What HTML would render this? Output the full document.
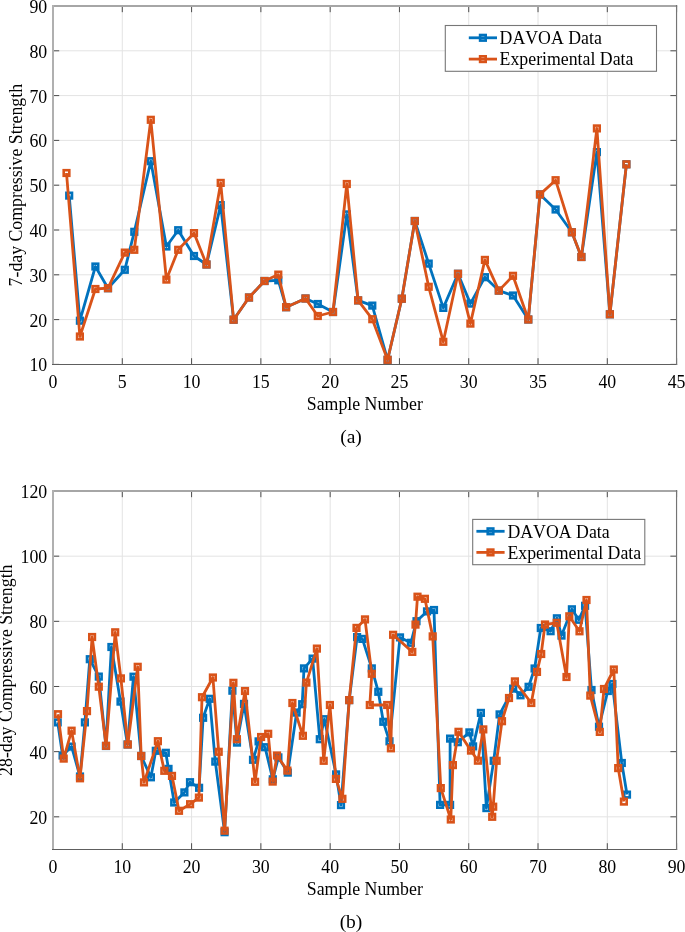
<!DOCTYPE html>
<html><head><meta charset="utf-8"><style>
html,body{margin:0;padding:0;background:#fff;}
svg{display:block;will-change:transform}
text{font-family:"Liberation Serif",serif;font-size:17.8px;fill:#000;font-kerning:none}
</style></head><body>
<svg width="685" height="932" viewBox="0 0 685 932">
<rect width="685" height="932" fill="#fff"/>
<line x1="122.29" y1="6.0" x2="122.29" y2="364.4" stroke="#e3e3e3" stroke-width="1"/>
<line x1="191.58" y1="6.0" x2="191.58" y2="364.4" stroke="#e3e3e3" stroke-width="1"/>
<line x1="260.87" y1="6.0" x2="260.87" y2="364.4" stroke="#e3e3e3" stroke-width="1"/>
<line x1="330.16" y1="6.0" x2="330.16" y2="364.4" stroke="#e3e3e3" stroke-width="1"/>
<line x1="399.44" y1="6.0" x2="399.44" y2="364.4" stroke="#e3e3e3" stroke-width="1"/>
<line x1="468.73" y1="6.0" x2="468.73" y2="364.4" stroke="#e3e3e3" stroke-width="1"/>
<line x1="538.02" y1="6.0" x2="538.02" y2="364.4" stroke="#e3e3e3" stroke-width="1"/>
<line x1="607.31" y1="6.0" x2="607.31" y2="364.4" stroke="#e3e3e3" stroke-width="1"/>
<line x1="53.0" y1="319.60" x2="676.6" y2="319.60" stroke="#e3e3e3" stroke-width="1"/>
<line x1="53.0" y1="274.80" x2="676.6" y2="274.80" stroke="#e3e3e3" stroke-width="1"/>
<line x1="53.0" y1="230.00" x2="676.6" y2="230.00" stroke="#e3e3e3" stroke-width="1"/>
<line x1="53.0" y1="185.20" x2="676.6" y2="185.20" stroke="#e3e3e3" stroke-width="1"/>
<line x1="53.0" y1="140.40" x2="676.6" y2="140.40" stroke="#e3e3e3" stroke-width="1"/>
<line x1="53.0" y1="95.60" x2="676.6" y2="95.60" stroke="#e3e3e3" stroke-width="1"/>
<line x1="53.0" y1="50.80" x2="676.6" y2="50.80" stroke="#e3e3e3" stroke-width="1"/>
<polyline points="69.2,195.6 79.9,320.7 95.4,266.5 108.0,288.2 124.8,269.8 134.3,231.8 150.8,161.2 166.4,246.5 178.2,230.2 194.0,256.0 206.5,264.5 220.7,205.1 233.6,319.7 249.0,297.5 264.5,281.0 278.3,280.3 286.1,307.2 305.5,298.5 317.8,304.0 333.0,312.0 346.8,214.4 358.1,300.4 372.3,305.6 387.6,359.8 401.8,298.7 414.8,221.0 428.7,263.6 443.3,307.9 458.0,273.8 470.4,303.6 484.9,277.2 498.8,290.6 513.0,295.5 528.3,319.5 540.0,194.4 555.6,209.5 571.9,232.3 581.4,257.0 596.9,152.1 609.9,314.3 626.4,164.3" fill="none" stroke="#0072BD" stroke-width="2.8" stroke-linejoin="round" stroke-linecap="butt"/>
<rect x="66.4" y="192.8" width="5.6" height="5.6" fill="none" stroke="#0072BD" stroke-width="2.6"/>
<rect x="77.1" y="317.9" width="5.6" height="5.6" fill="none" stroke="#0072BD" stroke-width="2.6"/>
<rect x="92.6" y="263.7" width="5.6" height="5.6" fill="none" stroke="#0072BD" stroke-width="2.6"/>
<rect x="105.2" y="285.4" width="5.6" height="5.6" fill="none" stroke="#0072BD" stroke-width="2.6"/>
<rect x="122.0" y="267.0" width="5.6" height="5.6" fill="none" stroke="#0072BD" stroke-width="2.6"/>
<rect x="131.5" y="229.0" width="5.6" height="5.6" fill="none" stroke="#0072BD" stroke-width="2.6"/>
<rect x="148.0" y="158.4" width="5.6" height="5.6" fill="none" stroke="#0072BD" stroke-width="2.6"/>
<rect x="163.6" y="243.7" width="5.6" height="5.6" fill="none" stroke="#0072BD" stroke-width="2.6"/>
<rect x="175.4" y="227.4" width="5.6" height="5.6" fill="none" stroke="#0072BD" stroke-width="2.6"/>
<rect x="191.2" y="253.2" width="5.6" height="5.6" fill="none" stroke="#0072BD" stroke-width="2.6"/>
<rect x="203.7" y="261.7" width="5.6" height="5.6" fill="none" stroke="#0072BD" stroke-width="2.6"/>
<rect x="217.9" y="202.3" width="5.6" height="5.6" fill="none" stroke="#0072BD" stroke-width="2.6"/>
<rect x="230.8" y="316.9" width="5.6" height="5.6" fill="none" stroke="#0072BD" stroke-width="2.6"/>
<rect x="246.2" y="294.7" width="5.6" height="5.6" fill="none" stroke="#0072BD" stroke-width="2.6"/>
<rect x="261.7" y="278.2" width="5.6" height="5.6" fill="none" stroke="#0072BD" stroke-width="2.6"/>
<rect x="275.5" y="277.5" width="5.6" height="5.6" fill="none" stroke="#0072BD" stroke-width="2.6"/>
<rect x="283.3" y="304.4" width="5.6" height="5.6" fill="none" stroke="#0072BD" stroke-width="2.6"/>
<rect x="302.7" y="295.7" width="5.6" height="5.6" fill="none" stroke="#0072BD" stroke-width="2.6"/>
<rect x="315.0" y="301.2" width="5.6" height="5.6" fill="none" stroke="#0072BD" stroke-width="2.6"/>
<rect x="330.2" y="309.2" width="5.6" height="5.6" fill="none" stroke="#0072BD" stroke-width="2.6"/>
<rect x="344.0" y="211.6" width="5.6" height="5.6" fill="none" stroke="#0072BD" stroke-width="2.6"/>
<rect x="355.3" y="297.6" width="5.6" height="5.6" fill="none" stroke="#0072BD" stroke-width="2.6"/>
<rect x="369.5" y="302.8" width="5.6" height="5.6" fill="none" stroke="#0072BD" stroke-width="2.6"/>
<rect x="384.8" y="357.0" width="5.6" height="5.6" fill="none" stroke="#0072BD" stroke-width="2.6"/>
<rect x="399.0" y="295.9" width="5.6" height="5.6" fill="none" stroke="#0072BD" stroke-width="2.6"/>
<rect x="412.0" y="218.2" width="5.6" height="5.6" fill="none" stroke="#0072BD" stroke-width="2.6"/>
<rect x="425.9" y="260.8" width="5.6" height="5.6" fill="none" stroke="#0072BD" stroke-width="2.6"/>
<rect x="440.5" y="305.1" width="5.6" height="5.6" fill="none" stroke="#0072BD" stroke-width="2.6"/>
<rect x="455.2" y="271.0" width="5.6" height="5.6" fill="none" stroke="#0072BD" stroke-width="2.6"/>
<rect x="467.6" y="300.8" width="5.6" height="5.6" fill="none" stroke="#0072BD" stroke-width="2.6"/>
<rect x="482.1" y="274.4" width="5.6" height="5.6" fill="none" stroke="#0072BD" stroke-width="2.6"/>
<rect x="496.0" y="287.8" width="5.6" height="5.6" fill="none" stroke="#0072BD" stroke-width="2.6"/>
<rect x="510.2" y="292.7" width="5.6" height="5.6" fill="none" stroke="#0072BD" stroke-width="2.6"/>
<rect x="525.5" y="316.7" width="5.6" height="5.6" fill="none" stroke="#0072BD" stroke-width="2.6"/>
<rect x="537.2" y="191.6" width="5.6" height="5.6" fill="none" stroke="#0072BD" stroke-width="2.6"/>
<rect x="552.8" y="206.7" width="5.6" height="5.6" fill="none" stroke="#0072BD" stroke-width="2.6"/>
<rect x="569.1" y="229.5" width="5.6" height="5.6" fill="none" stroke="#0072BD" stroke-width="2.6"/>
<rect x="578.6" y="254.2" width="5.6" height="5.6" fill="none" stroke="#0072BD" stroke-width="2.6"/>
<rect x="594.1" y="149.3" width="5.6" height="5.6" fill="none" stroke="#0072BD" stroke-width="2.6"/>
<rect x="607.1" y="311.5" width="5.6" height="5.6" fill="none" stroke="#0072BD" stroke-width="2.6"/>
<rect x="623.6" y="161.5" width="5.6" height="5.6" fill="none" stroke="#0072BD" stroke-width="2.6"/>
<polyline points="66.5,173.0 79.9,336.5 95.4,289.0 108.0,288.2 124.8,252.6 134.3,249.8 150.8,119.8 166.4,279.6 178.2,249.8 194.0,233.1 206.5,264.5 220.7,182.9 233.6,319.7 249.0,297.5 264.5,281.0 278.3,274.6 286.1,307.2 305.5,298.5 317.8,316.0 333.0,312.0 346.8,184.0 358.1,300.4 372.3,319.2 387.6,359.8 401.8,298.7 414.8,221.0 428.7,286.8 443.3,341.8 458.0,273.8 470.4,323.6 484.9,259.9 498.8,290.6 513.0,275.8 528.3,319.5 540.0,194.4 555.6,180.2 571.9,232.3 581.4,257.0 596.9,128.4 609.9,314.3 626.4,164.3" fill="none" stroke="#D95319" stroke-width="2.8" stroke-linejoin="round" stroke-linecap="butt"/>
<rect x="63.7" y="170.2" width="5.6" height="5.6" fill="none" stroke="#D95319" stroke-width="2.6"/>
<rect x="77.1" y="333.7" width="5.6" height="5.6" fill="none" stroke="#D95319" stroke-width="2.6"/>
<rect x="92.6" y="286.2" width="5.6" height="5.6" fill="none" stroke="#D95319" stroke-width="2.6"/>
<rect x="105.2" y="285.4" width="5.6" height="5.6" fill="none" stroke="#D95319" stroke-width="2.6"/>
<rect x="122.0" y="249.8" width="5.6" height="5.6" fill="none" stroke="#D95319" stroke-width="2.6"/>
<rect x="131.5" y="247.0" width="5.6" height="5.6" fill="none" stroke="#D95319" stroke-width="2.6"/>
<rect x="148.0" y="117.0" width="5.6" height="5.6" fill="none" stroke="#D95319" stroke-width="2.6"/>
<rect x="163.6" y="276.8" width="5.6" height="5.6" fill="none" stroke="#D95319" stroke-width="2.6"/>
<rect x="175.4" y="247.0" width="5.6" height="5.6" fill="none" stroke="#D95319" stroke-width="2.6"/>
<rect x="191.2" y="230.3" width="5.6" height="5.6" fill="none" stroke="#D95319" stroke-width="2.6"/>
<rect x="203.7" y="261.7" width="5.6" height="5.6" fill="none" stroke="#D95319" stroke-width="2.6"/>
<rect x="217.9" y="180.1" width="5.6" height="5.6" fill="none" stroke="#D95319" stroke-width="2.6"/>
<rect x="230.8" y="316.9" width="5.6" height="5.6" fill="none" stroke="#D95319" stroke-width="2.6"/>
<rect x="246.2" y="294.7" width="5.6" height="5.6" fill="none" stroke="#D95319" stroke-width="2.6"/>
<rect x="261.7" y="278.2" width="5.6" height="5.6" fill="none" stroke="#D95319" stroke-width="2.6"/>
<rect x="275.5" y="271.8" width="5.6" height="5.6" fill="none" stroke="#D95319" stroke-width="2.6"/>
<rect x="283.3" y="304.4" width="5.6" height="5.6" fill="none" stroke="#D95319" stroke-width="2.6"/>
<rect x="302.7" y="295.7" width="5.6" height="5.6" fill="none" stroke="#D95319" stroke-width="2.6"/>
<rect x="315.0" y="313.2" width="5.6" height="5.6" fill="none" stroke="#D95319" stroke-width="2.6"/>
<rect x="330.2" y="309.2" width="5.6" height="5.6" fill="none" stroke="#D95319" stroke-width="2.6"/>
<rect x="344.0" y="181.2" width="5.6" height="5.6" fill="none" stroke="#D95319" stroke-width="2.6"/>
<rect x="355.3" y="297.6" width="5.6" height="5.6" fill="none" stroke="#D95319" stroke-width="2.6"/>
<rect x="369.5" y="316.4" width="5.6" height="5.6" fill="none" stroke="#D95319" stroke-width="2.6"/>
<rect x="384.8" y="357.0" width="5.6" height="5.6" fill="none" stroke="#D95319" stroke-width="2.6"/>
<rect x="399.0" y="295.9" width="5.6" height="5.6" fill="none" stroke="#D95319" stroke-width="2.6"/>
<rect x="412.0" y="218.2" width="5.6" height="5.6" fill="none" stroke="#D95319" stroke-width="2.6"/>
<rect x="425.9" y="284.0" width="5.6" height="5.6" fill="none" stroke="#D95319" stroke-width="2.6"/>
<rect x="440.5" y="339.0" width="5.6" height="5.6" fill="none" stroke="#D95319" stroke-width="2.6"/>
<rect x="455.2" y="271.0" width="5.6" height="5.6" fill="none" stroke="#D95319" stroke-width="2.6"/>
<rect x="467.6" y="320.8" width="5.6" height="5.6" fill="none" stroke="#D95319" stroke-width="2.6"/>
<rect x="482.1" y="257.1" width="5.6" height="5.6" fill="none" stroke="#D95319" stroke-width="2.6"/>
<rect x="496.0" y="287.8" width="5.6" height="5.6" fill="none" stroke="#D95319" stroke-width="2.6"/>
<rect x="510.2" y="273.0" width="5.6" height="5.6" fill="none" stroke="#D95319" stroke-width="2.6"/>
<rect x="525.5" y="316.7" width="5.6" height="5.6" fill="none" stroke="#D95319" stroke-width="2.6"/>
<rect x="537.2" y="191.6" width="5.6" height="5.6" fill="none" stroke="#D95319" stroke-width="2.6"/>
<rect x="552.8" y="177.4" width="5.6" height="5.6" fill="none" stroke="#D95319" stroke-width="2.6"/>
<rect x="569.1" y="229.5" width="5.6" height="5.6" fill="none" stroke="#D95319" stroke-width="2.6"/>
<rect x="578.6" y="254.2" width="5.6" height="5.6" fill="none" stroke="#D95319" stroke-width="2.6"/>
<rect x="594.1" y="125.6" width="5.6" height="5.6" fill="none" stroke="#D95319" stroke-width="2.6"/>
<rect x="607.1" y="311.5" width="5.6" height="5.6" fill="none" stroke="#D95319" stroke-width="2.6"/>
<rect x="623.6" y="161.5" width="5.6" height="5.6" fill="none" stroke="#D95319" stroke-width="2.6"/>
<line x1="53.00" y1="364.4" x2="53.00" y2="358.2" stroke="#4d4d4d" stroke-width="1"/>
<line x1="53.00" y1="6.0" x2="53.00" y2="12.2" stroke="#4d4d4d" stroke-width="1"/>
<line x1="122.29" y1="364.4" x2="122.29" y2="358.2" stroke="#4d4d4d" stroke-width="1"/>
<line x1="122.29" y1="6.0" x2="122.29" y2="12.2" stroke="#4d4d4d" stroke-width="1"/>
<line x1="191.58" y1="364.4" x2="191.58" y2="358.2" stroke="#4d4d4d" stroke-width="1"/>
<line x1="191.58" y1="6.0" x2="191.58" y2="12.2" stroke="#4d4d4d" stroke-width="1"/>
<line x1="260.87" y1="364.4" x2="260.87" y2="358.2" stroke="#4d4d4d" stroke-width="1"/>
<line x1="260.87" y1="6.0" x2="260.87" y2="12.2" stroke="#4d4d4d" stroke-width="1"/>
<line x1="330.16" y1="364.4" x2="330.16" y2="358.2" stroke="#4d4d4d" stroke-width="1"/>
<line x1="330.16" y1="6.0" x2="330.16" y2="12.2" stroke="#4d4d4d" stroke-width="1"/>
<line x1="399.44" y1="364.4" x2="399.44" y2="358.2" stroke="#4d4d4d" stroke-width="1"/>
<line x1="399.44" y1="6.0" x2="399.44" y2="12.2" stroke="#4d4d4d" stroke-width="1"/>
<line x1="468.73" y1="364.4" x2="468.73" y2="358.2" stroke="#4d4d4d" stroke-width="1"/>
<line x1="468.73" y1="6.0" x2="468.73" y2="12.2" stroke="#4d4d4d" stroke-width="1"/>
<line x1="538.02" y1="364.4" x2="538.02" y2="358.2" stroke="#4d4d4d" stroke-width="1"/>
<line x1="538.02" y1="6.0" x2="538.02" y2="12.2" stroke="#4d4d4d" stroke-width="1"/>
<line x1="607.31" y1="364.4" x2="607.31" y2="358.2" stroke="#4d4d4d" stroke-width="1"/>
<line x1="607.31" y1="6.0" x2="607.31" y2="12.2" stroke="#4d4d4d" stroke-width="1"/>
<line x1="676.60" y1="364.4" x2="676.60" y2="358.2" stroke="#4d4d4d" stroke-width="1"/>
<line x1="676.60" y1="6.0" x2="676.60" y2="12.2" stroke="#4d4d4d" stroke-width="1"/>
<line x1="53.0" y1="364.40" x2="59.2" y2="364.40" stroke="#4d4d4d" stroke-width="1"/>
<line x1="676.6" y1="364.40" x2="670.4" y2="364.40" stroke="#4d4d4d" stroke-width="1"/>
<line x1="53.0" y1="319.60" x2="59.2" y2="319.60" stroke="#4d4d4d" stroke-width="1"/>
<line x1="676.6" y1="319.60" x2="670.4" y2="319.60" stroke="#4d4d4d" stroke-width="1"/>
<line x1="53.0" y1="274.80" x2="59.2" y2="274.80" stroke="#4d4d4d" stroke-width="1"/>
<line x1="676.6" y1="274.80" x2="670.4" y2="274.80" stroke="#4d4d4d" stroke-width="1"/>
<line x1="53.0" y1="230.00" x2="59.2" y2="230.00" stroke="#4d4d4d" stroke-width="1"/>
<line x1="676.6" y1="230.00" x2="670.4" y2="230.00" stroke="#4d4d4d" stroke-width="1"/>
<line x1="53.0" y1="185.20" x2="59.2" y2="185.20" stroke="#4d4d4d" stroke-width="1"/>
<line x1="676.6" y1="185.20" x2="670.4" y2="185.20" stroke="#4d4d4d" stroke-width="1"/>
<line x1="53.0" y1="140.40" x2="59.2" y2="140.40" stroke="#4d4d4d" stroke-width="1"/>
<line x1="676.6" y1="140.40" x2="670.4" y2="140.40" stroke="#4d4d4d" stroke-width="1"/>
<line x1="53.0" y1="95.60" x2="59.2" y2="95.60" stroke="#4d4d4d" stroke-width="1"/>
<line x1="676.6" y1="95.60" x2="670.4" y2="95.60" stroke="#4d4d4d" stroke-width="1"/>
<line x1="53.0" y1="50.80" x2="59.2" y2="50.80" stroke="#4d4d4d" stroke-width="1"/>
<line x1="676.6" y1="50.80" x2="670.4" y2="50.80" stroke="#4d4d4d" stroke-width="1"/>
<line x1="53.0" y1="6.00" x2="59.2" y2="6.00" stroke="#4d4d4d" stroke-width="1"/>
<line x1="676.6" y1="6.00" x2="670.4" y2="6.00" stroke="#4d4d4d" stroke-width="1"/>
<line x1="52.0" y1="6.0" x2="677.2" y2="6.0" stroke="#a6a6a6" stroke-width="2"/>
<line x1="53.0" y1="5.0" x2="53.0" y2="365.0" stroke="#b0b0b0" stroke-width="2"/>
<line x1="52.0" y1="364.5" x2="677.2" y2="364.5" stroke="#5e5e5e" stroke-width="1.05"/>
<line x1="676.5500000000001" y1="5.0" x2="676.5500000000001" y2="365.0" stroke="#747474" stroke-width="1.15"/>
<rect x="445.3" y="25.5" width="211.2" height="45.8" fill="#fff" stroke="#777" stroke-width="1.1"/>
<line x1="468.8" y1="37.8" x2="497.0" y2="37.8" stroke="#0072BD" stroke-width="2.8"/>
<rect x="480.1" y="35.0" width="5.6" height="5.6" fill="none" stroke="#0072BD" stroke-width="2.6"/>
<text x="499.6" y="44.1">DAVOA Data</text>
<line x1="468.8" y1="59.1" x2="497.0" y2="59.1" stroke="#D95319" stroke-width="2.8"/>
<rect x="480.1" y="56.3" width="5.6" height="5.6" fill="none" stroke="#D95319" stroke-width="2.6"/>
<text x="499.6" y="65.4">Experimental Data</text>
<text x="53.00" y="388.0" text-anchor="middle">0</text>
<text x="122.29" y="388.0" text-anchor="middle">5</text>
<text x="191.58" y="388.0" text-anchor="middle">10</text>
<text x="260.87" y="388.0" text-anchor="middle">15</text>
<text x="330.16" y="388.0" text-anchor="middle">20</text>
<text x="399.44" y="388.0" text-anchor="middle">25</text>
<text x="468.73" y="388.0" text-anchor="middle">30</text>
<text x="538.02" y="388.0" text-anchor="middle">35</text>
<text x="607.31" y="388.0" text-anchor="middle">40</text>
<text x="676.60" y="388.0" text-anchor="middle">45</text>
<text x="47.2" y="371.4" text-anchor="end">10</text>
<text x="47.2" y="326.6" text-anchor="end">20</text>
<text x="47.2" y="281.8" text-anchor="end">30</text>
<text x="47.2" y="237.0" text-anchor="end">40</text>
<text x="47.2" y="192.2" text-anchor="end">50</text>
<text x="47.2" y="147.4" text-anchor="end">60</text>
<text x="47.2" y="102.6" text-anchor="end">70</text>
<text x="47.2" y="57.8" text-anchor="end">80</text>
<text x="47.2" y="13.0" text-anchor="end">90</text>
<text x="364.8" y="410.0" text-anchor="middle">Sample Number</text>
<text transform="translate(21.8,185.2) rotate(-90)" x="0" y="0" text-anchor="middle">7-day Compressive Strength</text>
<text x="351.0" y="443.0" text-anchor="middle" style="font-size:19.5px">(a)</text>
<line x1="122.29" y1="491.0" x2="122.29" y2="849.4" stroke="#e3e3e3" stroke-width="1"/>
<line x1="191.58" y1="491.0" x2="191.58" y2="849.4" stroke="#e3e3e3" stroke-width="1"/>
<line x1="260.87" y1="491.0" x2="260.87" y2="849.4" stroke="#e3e3e3" stroke-width="1"/>
<line x1="330.16" y1="491.0" x2="330.16" y2="849.4" stroke="#e3e3e3" stroke-width="1"/>
<line x1="399.44" y1="491.0" x2="399.44" y2="849.4" stroke="#e3e3e3" stroke-width="1"/>
<line x1="468.73" y1="491.0" x2="468.73" y2="849.4" stroke="#e3e3e3" stroke-width="1"/>
<line x1="538.02" y1="491.0" x2="538.02" y2="849.4" stroke="#e3e3e3" stroke-width="1"/>
<line x1="607.31" y1="491.0" x2="607.31" y2="849.4" stroke="#e3e3e3" stroke-width="1"/>
<line x1="53.0" y1="816.82" x2="676.6" y2="816.82" stroke="#e3e3e3" stroke-width="1"/>
<line x1="53.0" y1="751.65" x2="676.6" y2="751.65" stroke="#e3e3e3" stroke-width="1"/>
<line x1="53.0" y1="686.49" x2="676.6" y2="686.49" stroke="#e3e3e3" stroke-width="1"/>
<line x1="53.0" y1="621.33" x2="676.6" y2="621.33" stroke="#e3e3e3" stroke-width="1"/>
<line x1="53.0" y1="556.16" x2="676.6" y2="556.16" stroke="#e3e3e3" stroke-width="1"/>
<polyline points="57.7,722.4 62.6,755.5 71.6,746.6 80.0,776.5 84.9,722.4 89.8,659.2 98.8,676.6 105.9,746.0 111.4,647.0 120.5,701.6 127.5,744.5 133.5,676.7 141.2,756.0 150.9,777.3 155.8,750.8 165.8,752.8 168.5,768.9 174.2,802.5 184.4,792.4 190.0,782.2 199.1,787.8 203.1,717.8 209.7,698.8 215.3,761.6 224.6,832.2 232.4,690.7 237.0,742.6 244.0,703.9 253.0,759.8 258.6,741.4 265.0,747.2 272.8,779.3 278.4,757.4 287.8,772.6 296.6,712.6 302.2,704.2 304.0,668.4 312.6,658.6 319.8,739.2 324.4,719.2 336.1,774.4 341.0,805.1 349.2,700.1 357.1,637.1 362.4,638.9 371.8,668.4 378.3,691.8 383.3,721.8 389.5,741.3 400.0,637.4 410.9,642.8 416.5,621.2 427.0,611.4 434.0,610.0 440.1,804.9 450.1,804.9 450.1,738.6 457.8,742.2 469.4,732.4 473.1,746.4 480.9,712.9 486.4,808.1 493.7,760.8 499.6,714.4 513.2,688.6 520.5,695.3 528.6,686.8 534.6,668.5 540.8,628.0 550.6,631.2 556.9,618.3 561.5,635.6 571.9,609.3 578.8,619.8 585.1,605.8 591.5,690.0 599.0,726.7 607.8,691.0 612.4,684.0 621.8,763.0 627.0,794.6" fill="none" stroke="#0072BD" stroke-width="2.8" stroke-linejoin="round" stroke-linecap="butt"/>
<rect x="54.9" y="719.6" width="5.6" height="5.6" fill="none" stroke="#0072BD" stroke-width="2.6"/>
<rect x="59.8" y="752.7" width="5.6" height="5.6" fill="none" stroke="#0072BD" stroke-width="2.6"/>
<rect x="68.8" y="743.8" width="5.6" height="5.6" fill="none" stroke="#0072BD" stroke-width="2.6"/>
<rect x="77.2" y="773.7" width="5.6" height="5.6" fill="none" stroke="#0072BD" stroke-width="2.6"/>
<rect x="82.1" y="719.6" width="5.6" height="5.6" fill="none" stroke="#0072BD" stroke-width="2.6"/>
<rect x="87.0" y="656.4" width="5.6" height="5.6" fill="none" stroke="#0072BD" stroke-width="2.6"/>
<rect x="96.0" y="673.8" width="5.6" height="5.6" fill="none" stroke="#0072BD" stroke-width="2.6"/>
<rect x="103.1" y="743.2" width="5.6" height="5.6" fill="none" stroke="#0072BD" stroke-width="2.6"/>
<rect x="108.6" y="644.2" width="5.6" height="5.6" fill="none" stroke="#0072BD" stroke-width="2.6"/>
<rect x="117.7" y="698.8" width="5.6" height="5.6" fill="none" stroke="#0072BD" stroke-width="2.6"/>
<rect x="124.7" y="741.7" width="5.6" height="5.6" fill="none" stroke="#0072BD" stroke-width="2.6"/>
<rect x="130.7" y="673.9" width="5.6" height="5.6" fill="none" stroke="#0072BD" stroke-width="2.6"/>
<rect x="138.4" y="753.2" width="5.6" height="5.6" fill="none" stroke="#0072BD" stroke-width="2.6"/>
<rect x="148.1" y="774.5" width="5.6" height="5.6" fill="none" stroke="#0072BD" stroke-width="2.6"/>
<rect x="153.0" y="748.0" width="5.6" height="5.6" fill="none" stroke="#0072BD" stroke-width="2.6"/>
<rect x="163.0" y="750.0" width="5.6" height="5.6" fill="none" stroke="#0072BD" stroke-width="2.6"/>
<rect x="165.7" y="766.1" width="5.6" height="5.6" fill="none" stroke="#0072BD" stroke-width="2.6"/>
<rect x="171.4" y="799.7" width="5.6" height="5.6" fill="none" stroke="#0072BD" stroke-width="2.6"/>
<rect x="181.6" y="789.6" width="5.6" height="5.6" fill="none" stroke="#0072BD" stroke-width="2.6"/>
<rect x="187.2" y="779.4" width="5.6" height="5.6" fill="none" stroke="#0072BD" stroke-width="2.6"/>
<rect x="196.3" y="785.0" width="5.6" height="5.6" fill="none" stroke="#0072BD" stroke-width="2.6"/>
<rect x="200.3" y="715.0" width="5.6" height="5.6" fill="none" stroke="#0072BD" stroke-width="2.6"/>
<rect x="206.9" y="696.0" width="5.6" height="5.6" fill="none" stroke="#0072BD" stroke-width="2.6"/>
<rect x="212.5" y="758.8" width="5.6" height="5.6" fill="none" stroke="#0072BD" stroke-width="2.6"/>
<rect x="221.8" y="829.4" width="5.6" height="5.6" fill="none" stroke="#0072BD" stroke-width="2.6"/>
<rect x="229.6" y="687.9" width="5.6" height="5.6" fill="none" stroke="#0072BD" stroke-width="2.6"/>
<rect x="234.2" y="739.8" width="5.6" height="5.6" fill="none" stroke="#0072BD" stroke-width="2.6"/>
<rect x="241.2" y="701.1" width="5.6" height="5.6" fill="none" stroke="#0072BD" stroke-width="2.6"/>
<rect x="250.2" y="757.0" width="5.6" height="5.6" fill="none" stroke="#0072BD" stroke-width="2.6"/>
<rect x="255.8" y="738.6" width="5.6" height="5.6" fill="none" stroke="#0072BD" stroke-width="2.6"/>
<rect x="262.2" y="744.4" width="5.6" height="5.6" fill="none" stroke="#0072BD" stroke-width="2.6"/>
<rect x="270.0" y="776.5" width="5.6" height="5.6" fill="none" stroke="#0072BD" stroke-width="2.6"/>
<rect x="275.6" y="754.6" width="5.6" height="5.6" fill="none" stroke="#0072BD" stroke-width="2.6"/>
<rect x="285.0" y="769.8" width="5.6" height="5.6" fill="none" stroke="#0072BD" stroke-width="2.6"/>
<rect x="293.8" y="709.8" width="5.6" height="5.6" fill="none" stroke="#0072BD" stroke-width="2.6"/>
<rect x="299.4" y="701.4" width="5.6" height="5.6" fill="none" stroke="#0072BD" stroke-width="2.6"/>
<rect x="301.2" y="665.6" width="5.6" height="5.6" fill="none" stroke="#0072BD" stroke-width="2.6"/>
<rect x="309.8" y="655.8" width="5.6" height="5.6" fill="none" stroke="#0072BD" stroke-width="2.6"/>
<rect x="317.0" y="736.4" width="5.6" height="5.6" fill="none" stroke="#0072BD" stroke-width="2.6"/>
<rect x="321.6" y="716.4" width="5.6" height="5.6" fill="none" stroke="#0072BD" stroke-width="2.6"/>
<rect x="333.3" y="771.6" width="5.6" height="5.6" fill="none" stroke="#0072BD" stroke-width="2.6"/>
<rect x="338.2" y="802.3" width="5.6" height="5.6" fill="none" stroke="#0072BD" stroke-width="2.6"/>
<rect x="346.4" y="697.3" width="5.6" height="5.6" fill="none" stroke="#0072BD" stroke-width="2.6"/>
<rect x="354.3" y="634.3" width="5.6" height="5.6" fill="none" stroke="#0072BD" stroke-width="2.6"/>
<rect x="359.6" y="636.1" width="5.6" height="5.6" fill="none" stroke="#0072BD" stroke-width="2.6"/>
<rect x="369.0" y="665.6" width="5.6" height="5.6" fill="none" stroke="#0072BD" stroke-width="2.6"/>
<rect x="375.5" y="689.0" width="5.6" height="5.6" fill="none" stroke="#0072BD" stroke-width="2.6"/>
<rect x="380.5" y="719.0" width="5.6" height="5.6" fill="none" stroke="#0072BD" stroke-width="2.6"/>
<rect x="386.7" y="738.5" width="5.6" height="5.6" fill="none" stroke="#0072BD" stroke-width="2.6"/>
<rect x="397.2" y="634.6" width="5.6" height="5.6" fill="none" stroke="#0072BD" stroke-width="2.6"/>
<rect x="408.1" y="640.0" width="5.6" height="5.6" fill="none" stroke="#0072BD" stroke-width="2.6"/>
<rect x="413.7" y="618.4" width="5.6" height="5.6" fill="none" stroke="#0072BD" stroke-width="2.6"/>
<rect x="424.2" y="608.6" width="5.6" height="5.6" fill="none" stroke="#0072BD" stroke-width="2.6"/>
<rect x="431.2" y="607.2" width="5.6" height="5.6" fill="none" stroke="#0072BD" stroke-width="2.6"/>
<rect x="437.3" y="802.1" width="5.6" height="5.6" fill="none" stroke="#0072BD" stroke-width="2.6"/>
<rect x="447.3" y="802.1" width="5.6" height="5.6" fill="none" stroke="#0072BD" stroke-width="2.6"/>
<rect x="447.3" y="735.8" width="5.6" height="5.6" fill="none" stroke="#0072BD" stroke-width="2.6"/>
<rect x="455.0" y="739.4" width="5.6" height="5.6" fill="none" stroke="#0072BD" stroke-width="2.6"/>
<rect x="466.6" y="729.6" width="5.6" height="5.6" fill="none" stroke="#0072BD" stroke-width="2.6"/>
<rect x="470.3" y="743.6" width="5.6" height="5.6" fill="none" stroke="#0072BD" stroke-width="2.6"/>
<rect x="478.1" y="710.1" width="5.6" height="5.6" fill="none" stroke="#0072BD" stroke-width="2.6"/>
<rect x="483.6" y="805.3" width="5.6" height="5.6" fill="none" stroke="#0072BD" stroke-width="2.6"/>
<rect x="490.9" y="758.0" width="5.6" height="5.6" fill="none" stroke="#0072BD" stroke-width="2.6"/>
<rect x="496.8" y="711.6" width="5.6" height="5.6" fill="none" stroke="#0072BD" stroke-width="2.6"/>
<rect x="510.4" y="685.8" width="5.6" height="5.6" fill="none" stroke="#0072BD" stroke-width="2.6"/>
<rect x="517.7" y="692.5" width="5.6" height="5.6" fill="none" stroke="#0072BD" stroke-width="2.6"/>
<rect x="525.8" y="684.0" width="5.6" height="5.6" fill="none" stroke="#0072BD" stroke-width="2.6"/>
<rect x="531.8" y="665.7" width="5.6" height="5.6" fill="none" stroke="#0072BD" stroke-width="2.6"/>
<rect x="538.0" y="625.2" width="5.6" height="5.6" fill="none" stroke="#0072BD" stroke-width="2.6"/>
<rect x="547.8" y="628.4" width="5.6" height="5.6" fill="none" stroke="#0072BD" stroke-width="2.6"/>
<rect x="554.1" y="615.5" width="5.6" height="5.6" fill="none" stroke="#0072BD" stroke-width="2.6"/>
<rect x="558.7" y="632.8" width="5.6" height="5.6" fill="none" stroke="#0072BD" stroke-width="2.6"/>
<rect x="569.1" y="606.5" width="5.6" height="5.6" fill="none" stroke="#0072BD" stroke-width="2.6"/>
<rect x="576.0" y="617.0" width="5.6" height="5.6" fill="none" stroke="#0072BD" stroke-width="2.6"/>
<rect x="582.3" y="603.0" width="5.6" height="5.6" fill="none" stroke="#0072BD" stroke-width="2.6"/>
<rect x="588.7" y="687.2" width="5.6" height="5.6" fill="none" stroke="#0072BD" stroke-width="2.6"/>
<rect x="596.2" y="723.9" width="5.6" height="5.6" fill="none" stroke="#0072BD" stroke-width="2.6"/>
<rect x="605.0" y="688.2" width="5.6" height="5.6" fill="none" stroke="#0072BD" stroke-width="2.6"/>
<rect x="609.6" y="681.2" width="5.6" height="5.6" fill="none" stroke="#0072BD" stroke-width="2.6"/>
<rect x="619.0" y="760.2" width="5.6" height="5.6" fill="none" stroke="#0072BD" stroke-width="2.6"/>
<rect x="624.2" y="791.8" width="5.6" height="5.6" fill="none" stroke="#0072BD" stroke-width="2.6"/>
<polyline points="58.0,714.2 63.7,758.6 71.6,730.7 80.0,778.3 87.0,711.1 92.1,637.0 98.8,686.7 106.1,745.8 115.2,632.3 120.9,678.4 127.8,744.5 137.7,666.8 141.2,756.0 144.0,782.4 157.9,741.2 164.3,770.8 172.0,775.9 179.0,810.8 190.1,804.2 198.9,797.6 202.0,697.2 212.9,677.5 218.7,751.8 224.6,830.7 233.4,682.8 236.9,739.2 245.0,691.0 255.1,781.8 261.1,737.0 268.2,733.8 272.7,781.6 277.0,755.5 287.4,770.6 292.4,703.0 302.9,735.8 306.4,682.6 316.9,648.6 323.7,760.8 329.9,705.0 335.9,778.9 342.4,798.8 349.2,700.1 356.5,627.9 365.0,619.4 371.8,673.8 369.8,705.0 387.2,705.0 390.9,748.3 393.1,634.8 412.3,651.9 415.5,624.6 417.5,596.7 424.9,598.8 432.7,636.4 440.8,788.1 450.8,819.5 452.9,765.1 458.5,731.8 471.0,750.6 477.9,760.7 483.3,729.4 492.2,816.8 493.2,806.7 496.6,760.8 502.0,721.2 509.0,698.0 514.9,681.4 531.3,703.0 537.0,671.9 541.2,654.0 545.0,624.5 556.7,622.8 566.5,677.0 569.3,616.3 579.5,631.3 586.5,600.0 590.3,695.6 599.8,731.9 604.0,689.0 613.8,669.5 618.2,768.1 623.9,801.6" fill="none" stroke="#D95319" stroke-width="2.8" stroke-linejoin="round" stroke-linecap="butt"/>
<rect x="55.2" y="711.4" width="5.6" height="5.6" fill="none" stroke="#D95319" stroke-width="2.6"/>
<rect x="60.9" y="755.8" width="5.6" height="5.6" fill="none" stroke="#D95319" stroke-width="2.6"/>
<rect x="68.8" y="727.9" width="5.6" height="5.6" fill="none" stroke="#D95319" stroke-width="2.6"/>
<rect x="77.2" y="775.5" width="5.6" height="5.6" fill="none" stroke="#D95319" stroke-width="2.6"/>
<rect x="84.2" y="708.3" width="5.6" height="5.6" fill="none" stroke="#D95319" stroke-width="2.6"/>
<rect x="89.3" y="634.2" width="5.6" height="5.6" fill="none" stroke="#D95319" stroke-width="2.6"/>
<rect x="96.0" y="683.9" width="5.6" height="5.6" fill="none" stroke="#D95319" stroke-width="2.6"/>
<rect x="103.3" y="743.0" width="5.6" height="5.6" fill="none" stroke="#D95319" stroke-width="2.6"/>
<rect x="112.4" y="629.5" width="5.6" height="5.6" fill="none" stroke="#D95319" stroke-width="2.6"/>
<rect x="118.1" y="675.6" width="5.6" height="5.6" fill="none" stroke="#D95319" stroke-width="2.6"/>
<rect x="125.0" y="741.7" width="5.6" height="5.6" fill="none" stroke="#D95319" stroke-width="2.6"/>
<rect x="134.9" y="664.0" width="5.6" height="5.6" fill="none" stroke="#D95319" stroke-width="2.6"/>
<rect x="138.4" y="753.2" width="5.6" height="5.6" fill="none" stroke="#D95319" stroke-width="2.6"/>
<rect x="141.2" y="779.6" width="5.6" height="5.6" fill="none" stroke="#D95319" stroke-width="2.6"/>
<rect x="155.1" y="738.4" width="5.6" height="5.6" fill="none" stroke="#D95319" stroke-width="2.6"/>
<rect x="161.5" y="768.0" width="5.6" height="5.6" fill="none" stroke="#D95319" stroke-width="2.6"/>
<rect x="169.2" y="773.1" width="5.6" height="5.6" fill="none" stroke="#D95319" stroke-width="2.6"/>
<rect x="176.2" y="808.0" width="5.6" height="5.6" fill="none" stroke="#D95319" stroke-width="2.6"/>
<rect x="187.3" y="801.4" width="5.6" height="5.6" fill="none" stroke="#D95319" stroke-width="2.6"/>
<rect x="196.1" y="794.8" width="5.6" height="5.6" fill="none" stroke="#D95319" stroke-width="2.6"/>
<rect x="199.2" y="694.4" width="5.6" height="5.6" fill="none" stroke="#D95319" stroke-width="2.6"/>
<rect x="210.1" y="674.7" width="5.6" height="5.6" fill="none" stroke="#D95319" stroke-width="2.6"/>
<rect x="215.9" y="749.0" width="5.6" height="5.6" fill="none" stroke="#D95319" stroke-width="2.6"/>
<rect x="221.8" y="827.9" width="5.6" height="5.6" fill="none" stroke="#D95319" stroke-width="2.6"/>
<rect x="230.6" y="680.0" width="5.6" height="5.6" fill="none" stroke="#D95319" stroke-width="2.6"/>
<rect x="234.1" y="736.4" width="5.6" height="5.6" fill="none" stroke="#D95319" stroke-width="2.6"/>
<rect x="242.2" y="688.2" width="5.6" height="5.6" fill="none" stroke="#D95319" stroke-width="2.6"/>
<rect x="252.3" y="779.0" width="5.6" height="5.6" fill="none" stroke="#D95319" stroke-width="2.6"/>
<rect x="258.3" y="734.2" width="5.6" height="5.6" fill="none" stroke="#D95319" stroke-width="2.6"/>
<rect x="265.4" y="731.0" width="5.6" height="5.6" fill="none" stroke="#D95319" stroke-width="2.6"/>
<rect x="269.9" y="778.8" width="5.6" height="5.6" fill="none" stroke="#D95319" stroke-width="2.6"/>
<rect x="274.2" y="752.7" width="5.6" height="5.6" fill="none" stroke="#D95319" stroke-width="2.6"/>
<rect x="284.6" y="767.8" width="5.6" height="5.6" fill="none" stroke="#D95319" stroke-width="2.6"/>
<rect x="289.6" y="700.2" width="5.6" height="5.6" fill="none" stroke="#D95319" stroke-width="2.6"/>
<rect x="300.1" y="733.0" width="5.6" height="5.6" fill="none" stroke="#D95319" stroke-width="2.6"/>
<rect x="303.6" y="679.8" width="5.6" height="5.6" fill="none" stroke="#D95319" stroke-width="2.6"/>
<rect x="314.1" y="645.8" width="5.6" height="5.6" fill="none" stroke="#D95319" stroke-width="2.6"/>
<rect x="320.9" y="758.0" width="5.6" height="5.6" fill="none" stroke="#D95319" stroke-width="2.6"/>
<rect x="327.1" y="702.2" width="5.6" height="5.6" fill="none" stroke="#D95319" stroke-width="2.6"/>
<rect x="333.1" y="776.1" width="5.6" height="5.6" fill="none" stroke="#D95319" stroke-width="2.6"/>
<rect x="339.6" y="796.0" width="5.6" height="5.6" fill="none" stroke="#D95319" stroke-width="2.6"/>
<rect x="346.4" y="697.3" width="5.6" height="5.6" fill="none" stroke="#D95319" stroke-width="2.6"/>
<rect x="353.7" y="625.1" width="5.6" height="5.6" fill="none" stroke="#D95319" stroke-width="2.6"/>
<rect x="362.2" y="616.6" width="5.6" height="5.6" fill="none" stroke="#D95319" stroke-width="2.6"/>
<rect x="369.0" y="671.0" width="5.6" height="5.6" fill="none" stroke="#D95319" stroke-width="2.6"/>
<rect x="367.0" y="702.2" width="5.6" height="5.6" fill="none" stroke="#D95319" stroke-width="2.6"/>
<rect x="384.4" y="702.2" width="5.6" height="5.6" fill="none" stroke="#D95319" stroke-width="2.6"/>
<rect x="388.1" y="745.5" width="5.6" height="5.6" fill="none" stroke="#D95319" stroke-width="2.6"/>
<rect x="390.3" y="632.0" width="5.6" height="5.6" fill="none" stroke="#D95319" stroke-width="2.6"/>
<rect x="409.5" y="649.1" width="5.6" height="5.6" fill="none" stroke="#D95319" stroke-width="2.6"/>
<rect x="412.7" y="621.8" width="5.6" height="5.6" fill="none" stroke="#D95319" stroke-width="2.6"/>
<rect x="414.7" y="593.9" width="5.6" height="5.6" fill="none" stroke="#D95319" stroke-width="2.6"/>
<rect x="422.1" y="596.0" width="5.6" height="5.6" fill="none" stroke="#D95319" stroke-width="2.6"/>
<rect x="429.9" y="633.6" width="5.6" height="5.6" fill="none" stroke="#D95319" stroke-width="2.6"/>
<rect x="438.0" y="785.3" width="5.6" height="5.6" fill="none" stroke="#D95319" stroke-width="2.6"/>
<rect x="448.0" y="816.7" width="5.6" height="5.6" fill="none" stroke="#D95319" stroke-width="2.6"/>
<rect x="450.1" y="762.3" width="5.6" height="5.6" fill="none" stroke="#D95319" stroke-width="2.6"/>
<rect x="455.7" y="729.0" width="5.6" height="5.6" fill="none" stroke="#D95319" stroke-width="2.6"/>
<rect x="468.2" y="747.8" width="5.6" height="5.6" fill="none" stroke="#D95319" stroke-width="2.6"/>
<rect x="475.1" y="757.9" width="5.6" height="5.6" fill="none" stroke="#D95319" stroke-width="2.6"/>
<rect x="480.5" y="726.6" width="5.6" height="5.6" fill="none" stroke="#D95319" stroke-width="2.6"/>
<rect x="489.4" y="814.0" width="5.6" height="5.6" fill="none" stroke="#D95319" stroke-width="2.6"/>
<rect x="490.4" y="803.9" width="5.6" height="5.6" fill="none" stroke="#D95319" stroke-width="2.6"/>
<rect x="493.8" y="758.0" width="5.6" height="5.6" fill="none" stroke="#D95319" stroke-width="2.6"/>
<rect x="499.2" y="718.4" width="5.6" height="5.6" fill="none" stroke="#D95319" stroke-width="2.6"/>
<rect x="506.2" y="695.2" width="5.6" height="5.6" fill="none" stroke="#D95319" stroke-width="2.6"/>
<rect x="512.1" y="678.6" width="5.6" height="5.6" fill="none" stroke="#D95319" stroke-width="2.6"/>
<rect x="528.5" y="700.2" width="5.6" height="5.6" fill="none" stroke="#D95319" stroke-width="2.6"/>
<rect x="534.2" y="669.1" width="5.6" height="5.6" fill="none" stroke="#D95319" stroke-width="2.6"/>
<rect x="538.4" y="651.2" width="5.6" height="5.6" fill="none" stroke="#D95319" stroke-width="2.6"/>
<rect x="542.2" y="621.7" width="5.6" height="5.6" fill="none" stroke="#D95319" stroke-width="2.6"/>
<rect x="553.9" y="620.0" width="5.6" height="5.6" fill="none" stroke="#D95319" stroke-width="2.6"/>
<rect x="563.7" y="674.2" width="5.6" height="5.6" fill="none" stroke="#D95319" stroke-width="2.6"/>
<rect x="566.5" y="613.5" width="5.6" height="5.6" fill="none" stroke="#D95319" stroke-width="2.6"/>
<rect x="576.7" y="628.5" width="5.6" height="5.6" fill="none" stroke="#D95319" stroke-width="2.6"/>
<rect x="583.7" y="597.2" width="5.6" height="5.6" fill="none" stroke="#D95319" stroke-width="2.6"/>
<rect x="587.5" y="692.8" width="5.6" height="5.6" fill="none" stroke="#D95319" stroke-width="2.6"/>
<rect x="597.0" y="729.1" width="5.6" height="5.6" fill="none" stroke="#D95319" stroke-width="2.6"/>
<rect x="601.2" y="686.2" width="5.6" height="5.6" fill="none" stroke="#D95319" stroke-width="2.6"/>
<rect x="611.0" y="666.7" width="5.6" height="5.6" fill="none" stroke="#D95319" stroke-width="2.6"/>
<rect x="615.4" y="765.3" width="5.6" height="5.6" fill="none" stroke="#D95319" stroke-width="2.6"/>
<rect x="621.1" y="798.8" width="5.6" height="5.6" fill="none" stroke="#D95319" stroke-width="2.6"/>
<line x1="53.00" y1="849.4" x2="53.00" y2="843.1999999999999" stroke="#4d4d4d" stroke-width="1"/>
<line x1="53.00" y1="491.0" x2="53.00" y2="497.2" stroke="#4d4d4d" stroke-width="1"/>
<line x1="122.29" y1="849.4" x2="122.29" y2="843.1999999999999" stroke="#4d4d4d" stroke-width="1"/>
<line x1="122.29" y1="491.0" x2="122.29" y2="497.2" stroke="#4d4d4d" stroke-width="1"/>
<line x1="191.58" y1="849.4" x2="191.58" y2="843.1999999999999" stroke="#4d4d4d" stroke-width="1"/>
<line x1="191.58" y1="491.0" x2="191.58" y2="497.2" stroke="#4d4d4d" stroke-width="1"/>
<line x1="260.87" y1="849.4" x2="260.87" y2="843.1999999999999" stroke="#4d4d4d" stroke-width="1"/>
<line x1="260.87" y1="491.0" x2="260.87" y2="497.2" stroke="#4d4d4d" stroke-width="1"/>
<line x1="330.16" y1="849.4" x2="330.16" y2="843.1999999999999" stroke="#4d4d4d" stroke-width="1"/>
<line x1="330.16" y1="491.0" x2="330.16" y2="497.2" stroke="#4d4d4d" stroke-width="1"/>
<line x1="399.44" y1="849.4" x2="399.44" y2="843.1999999999999" stroke="#4d4d4d" stroke-width="1"/>
<line x1="399.44" y1="491.0" x2="399.44" y2="497.2" stroke="#4d4d4d" stroke-width="1"/>
<line x1="468.73" y1="849.4" x2="468.73" y2="843.1999999999999" stroke="#4d4d4d" stroke-width="1"/>
<line x1="468.73" y1="491.0" x2="468.73" y2="497.2" stroke="#4d4d4d" stroke-width="1"/>
<line x1="538.02" y1="849.4" x2="538.02" y2="843.1999999999999" stroke="#4d4d4d" stroke-width="1"/>
<line x1="538.02" y1="491.0" x2="538.02" y2="497.2" stroke="#4d4d4d" stroke-width="1"/>
<line x1="607.31" y1="849.4" x2="607.31" y2="843.1999999999999" stroke="#4d4d4d" stroke-width="1"/>
<line x1="607.31" y1="491.0" x2="607.31" y2="497.2" stroke="#4d4d4d" stroke-width="1"/>
<line x1="676.60" y1="849.4" x2="676.60" y2="843.1999999999999" stroke="#4d4d4d" stroke-width="1"/>
<line x1="676.60" y1="491.0" x2="676.60" y2="497.2" stroke="#4d4d4d" stroke-width="1"/>
<line x1="53.0" y1="816.82" x2="59.2" y2="816.82" stroke="#4d4d4d" stroke-width="1"/>
<line x1="676.6" y1="816.82" x2="670.4" y2="816.82" stroke="#4d4d4d" stroke-width="1"/>
<line x1="53.0" y1="751.65" x2="59.2" y2="751.65" stroke="#4d4d4d" stroke-width="1"/>
<line x1="676.6" y1="751.65" x2="670.4" y2="751.65" stroke="#4d4d4d" stroke-width="1"/>
<line x1="53.0" y1="686.49" x2="59.2" y2="686.49" stroke="#4d4d4d" stroke-width="1"/>
<line x1="676.6" y1="686.49" x2="670.4" y2="686.49" stroke="#4d4d4d" stroke-width="1"/>
<line x1="53.0" y1="621.33" x2="59.2" y2="621.33" stroke="#4d4d4d" stroke-width="1"/>
<line x1="676.6" y1="621.33" x2="670.4" y2="621.33" stroke="#4d4d4d" stroke-width="1"/>
<line x1="53.0" y1="556.16" x2="59.2" y2="556.16" stroke="#4d4d4d" stroke-width="1"/>
<line x1="676.6" y1="556.16" x2="670.4" y2="556.16" stroke="#4d4d4d" stroke-width="1"/>
<line x1="53.0" y1="491.00" x2="59.2" y2="491.00" stroke="#4d4d4d" stroke-width="1"/>
<line x1="676.6" y1="491.00" x2="670.4" y2="491.00" stroke="#4d4d4d" stroke-width="1"/>
<line x1="52.0" y1="491.0" x2="677.2" y2="491.0" stroke="#a6a6a6" stroke-width="2"/>
<line x1="53.0" y1="490.0" x2="53.0" y2="850.0" stroke="#b0b0b0" stroke-width="2"/>
<line x1="52.0" y1="849.5" x2="677.2" y2="849.5" stroke="#5e5e5e" stroke-width="1.05"/>
<line x1="676.5500000000001" y1="490.0" x2="676.5500000000001" y2="850.0" stroke="#747474" stroke-width="1.15"/>
<rect x="472.7" y="519.4" width="172.1" height="45.3" fill="#fff" stroke="#777" stroke-width="1.1"/>
<line x1="476.4" y1="531.3" x2="504.6" y2="531.3" stroke="#0072BD" stroke-width="2.8"/>
<rect x="487.7" y="528.5" width="5.6" height="5.6" fill="none" stroke="#0072BD" stroke-width="2.6"/>
<text x="507.4" y="537.6">DAVOA Data</text>
<line x1="476.4" y1="552.4" x2="504.6" y2="552.4" stroke="#D95319" stroke-width="2.8"/>
<rect x="487.7" y="549.6" width="5.6" height="5.6" fill="none" stroke="#D95319" stroke-width="2.6"/>
<text x="507.4" y="558.7">Experimental Data</text>
<text x="53.00" y="873.0" text-anchor="middle">0</text>
<text x="122.29" y="873.0" text-anchor="middle">10</text>
<text x="191.58" y="873.0" text-anchor="middle">20</text>
<text x="260.87" y="873.0" text-anchor="middle">30</text>
<text x="330.16" y="873.0" text-anchor="middle">40</text>
<text x="399.44" y="873.0" text-anchor="middle">50</text>
<text x="468.73" y="873.0" text-anchor="middle">60</text>
<text x="538.02" y="873.0" text-anchor="middle">70</text>
<text x="607.31" y="873.0" text-anchor="middle">80</text>
<text x="676.60" y="873.0" text-anchor="middle">90</text>
<text x="47.2" y="823.8" text-anchor="end">20</text>
<text x="47.2" y="758.7" text-anchor="end">40</text>
<text x="47.2" y="693.5" text-anchor="end">60</text>
<text x="47.2" y="628.3" text-anchor="end">80</text>
<text x="47.2" y="563.2" text-anchor="end">100</text>
<text x="47.2" y="498.0" text-anchor="end">120</text>
<text x="364.8" y="895.0" text-anchor="middle">Sample Number</text>
<text transform="translate(12.4,670.2) rotate(-90)" x="0" y="0" text-anchor="middle">28-day Compressive Strength</text>
<text x="351.0" y="928.0" text-anchor="middle" style="font-size:19.5px">(b)</text>
</svg>
</body></html>
